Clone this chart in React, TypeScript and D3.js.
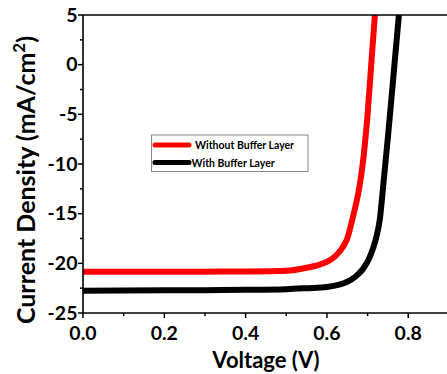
import React from "react";
import * as d3 from "d3";

// J–V curves (voltage in V, current density in mA/cm²)
const voltageWithout = [0, 0.1, 0.2, 0.3, 0.4, 0.5, 0.55, 0.58, 0.6, 0.62, 0.64, 0.65, 0.66, 0.67, 0.68, 0.69, 0.7, 0.71, 0.718];
const currentWithout = [-20.85, -20.85, -20.85, -20.84, -20.82, -20.75, -20.45, -20.15, -19.85, -19.3, -18.3, -17.5, -16.0, -14.3, -12.3, -9.3, -5.0, 0.6, 5];

const voltageWith = [0, 0.1, 0.2, 0.3, 0.4, 0.5, 0.55, 0.6, 0.63, 0.65, 0.67, 0.69, 0.705, 0.72, 0.73, 0.74, 0.75, 0.765, 0.777];
const currentWith = [-22.75, -22.73, -22.72, -22.7, -22.67, -22.6, -22.5, -22.38, -22.15, -21.85, -21.35, -20.5, -19.4, -17.6, -15.6, -11.5, -7.3, -0.5, 5];

const xTicks = [0, 0.2, 0.4, 0.6, 0.8];
const xMinorTicks = [0.1, 0.3, 0.5, 0.7];
const yTicks = [5, 0, -5, -10, -15, -20, -25];
const yMinorTicks = [2.5, -2.5, -7.5, -12.5, -17.5, -22.5];

const seriesNames = ["Without Buffer Layer", "With Buffer Layer"];
const seriesColors = ["#ff0000", "#000000"];

const W = 447;
const H = 374;
const FONT = "Lato, 'Open Sans', sans-serif";

export default function App() {
  const x = d3.scaleLinear().domain([0, 0.9]).range([83, 448.9]);
  const y = d3.scaleLinear().domain([-25, 5]).range([313, 15]);

  const line = d3
    .line<[number, number]>()
    .x((d) => x(d[0]))
    .y((d) => y(d[1]))
    .curve(d3.curveMonotoneX);

  const series = [
    voltageWithout.map((v, i) => [v, currentWithout[i]] as [number, number]),
    voltageWith.map((v, i) => [v, currentWith[i]] as [number, number]),
  ];

  const [x0, x1] = x.range();
  const [yb, yt] = y.range();

  return (
    <svg
      width={W}
      height={H}
      style={{ position: "absolute", left: 0, top: 0, background: "#fff" }}
      fontFamily={FONT}
    >
      <defs>
        <clipPath id="plot">
          <rect x={x0} y={yt} width={x1 - x0} height={yb - yt} />
        </clipPath>
      </defs>

      <g clipPath="url(#plot)">
        {series.map((s, i) => (
          <path
            key={i}
            d={line(s) || ""}
            fill="none"
            stroke={seriesColors[i]}
            strokeWidth={6}
            strokeLinejoin="round"
          />
        ))}
      </g>

      {/* frame */}
      <line x1={x0} x2={x1} y1={yt} y2={yt} stroke="#000" strokeWidth={1.6} />
      <line x1={x0} x2={x1} y1={yb} y2={yb} stroke="#000" strokeWidth={1.6} />
      <line x1={x0} x2={x0} y1={yt} y2={yb} stroke="#000" strokeWidth={1.6} />

      {/* x ticks */}
      {xTicks.map((t) => (
        <g key={t}>
          <line x1={x(t)} x2={x(t)} y1={yb} y2={yb + 5} stroke="#000" strokeWidth={1.5} />
          <text x={x(t)} y={340} textAnchor="middle" fontSize={19.5} fontWeight={700}>
            {t.toFixed(1)}
          </text>
        </g>
      ))}
      {xMinorTicks.map((t) => (
        <line key={t} x1={x(t)} x2={x(t)} y1={yb} y2={yb + 3} stroke="#000" strokeWidth={1.5} />
      ))}

      {/* y ticks */}
      {yTicks.map((t) => (
        <g key={t}>
          <line x1={x0 - 5} x2={x0} y1={y(t)} y2={y(t)} stroke="#000" strokeWidth={1.5} />
          <text x={77.5} y={y(t) + 6.8} textAnchor="end" fontSize={19.5} fontWeight={700}>
            {t}
          </text>
        </g>
      ))}
      {yMinorTicks.map((t) => (
        <line key={t} x1={x0 - 3} x2={x0} y1={y(t)} y2={y(t)} stroke="#000" strokeWidth={1.5} />
      ))}

      {/* axis titles */}
      <text x={266} y={367.5} textAnchor="middle" fontSize={22} fontWeight={700}>
        Voltage (V)
      </text>
      <text
        transform={`translate(35,180) rotate(-90)`}
        textAnchor="middle"
        fontSize={25}
        fontWeight={700}
      >
        Current Density (mA/cm
        <tspan dy={-10} fontSize={17}>2</tspan>
        <tspan dy={10}>)</tspan>
      </text>

      {/* legend */}
      <rect x={151.5} y={135} width={156.5} height={36.5} fill="#fff" stroke="#888" strokeWidth={1} />
      {seriesNames.map((name, i) => {
        const ly = i === 0 ? 145 : 162.5;
        return (
          <g key={name}>
            <line
              x1={155}
              x2={189}
              y1={ly}
              y2={ly}
              stroke={seriesColors[i]}
              strokeWidth={5}
              strokeLinecap="round"
            />
            <text x={i === 0 ? 195 : 191.5} y={ly + 4} fontSize={10.5} fontWeight={700}>
              {name}
            </text>
          </g>
        );
      })}
    </svg>
  );
}
